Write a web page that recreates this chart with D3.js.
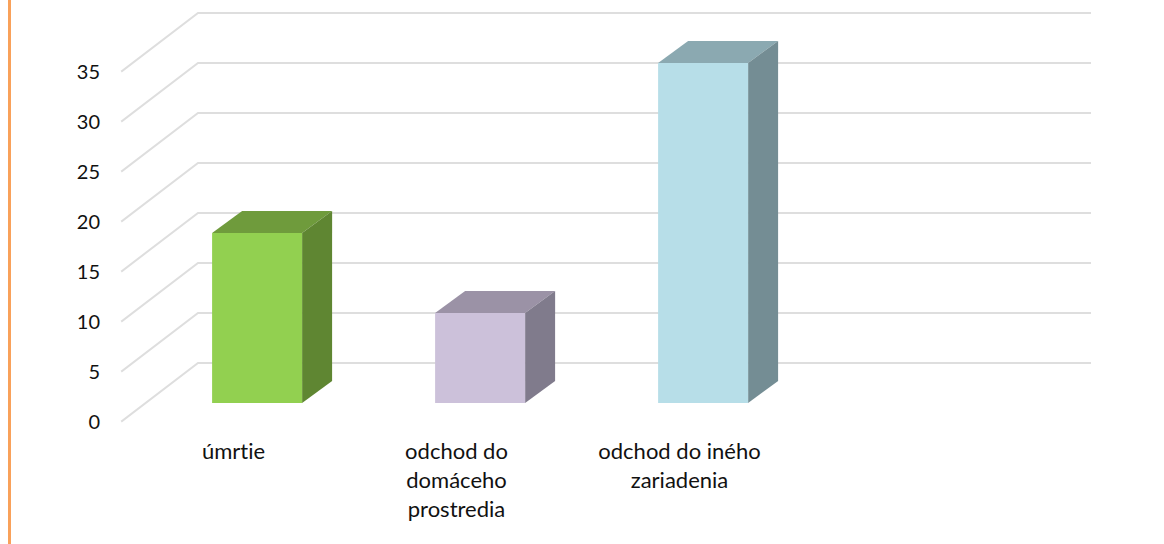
<!DOCTYPE html>
<html>
<head>
<meta charset="utf-8">
<script src="https://d3js.org/d3.v7.min.js"></script>
<style>
  html, body { margin: 0; padding: 0; background: #fff; }
  svg { display: block; }
  text { font-family: Lato, "Open Sans", sans-serif; font-size: 20px; fill: #111; font-variant-ligatures: none; }
  text.cat { font-size: 22px; }
</style>
</head>
<body>
<div id="chart"></div>
<script>
var categories = ['úmrtie', 'odchod do domáceho prostredia', 'odchod do iného zariadenia', ''];
var categoryLines = [
  ['úmrtie'],
  ['odchod do', 'domáceho', 'prostredia'],
  ['odchod do iného', 'zariadenia'],
  []
];
var values = [17, 9, 34, null];
var yTicks = [0, 5, 10, 15, 20, 25, 30, 35];
var frontColors = ['#92d050', '#ccc1da', '#b7dee8'];
var topColors = ['#6f9b3c', '#9b92a6', '#8ba9b1'];
var sideColors = ['#5f8632', '#807b8c', '#748d94'];

var width = 1164, height = 544;

var svg = d3.select('#chart').append('svg')
  .attr('width', width)
  .attr('height', height);

// border on the left of the slide
svg.append('rect')
  .attr('x', 8).attr('y', 0)
  .attr('width', 3).attr('height', height)
  .attr('fill', '#f9a15a');

var x = d3.scaleBand().domain(categories).range([122, 1014]);
var y = d3.scaleLinear().domain([0, 35]).range([421, 71]);

// fake 3d offsets
var wallDx = 76, wallDy = -58;
var barInsetX = 23.6, barInsetY = -18;
var barDx = 30, barDy = -22;
var barWidth = 90;

// grid: floor/side edge then back wall
svg.append('g').selectAll('path')
  .data(yTicks)
  .join('path')
  .attr('fill', 'none')
  .attr('stroke', '#dedede')
  .attr('stroke-width', 2)
  .attr('stroke-linecap', 'square')
  .attr('d', function (d) {
    var p = d3.path();
    p.moveTo(x.range()[0], y(d));
    p.lineTo(x.range()[0] + wallDx, y(d) + wallDy);
    p.lineTo(x.range()[1] + wallDx, y(d) + wallDy);
    return p.toString();
  });

var axis = d3.axisLeft(y).tickValues(yTicks).tickSize(0).tickPadding(0);
svg.append('g')
  .attr('transform', 'translate(100,1)')
  .call(axis)
  .call(function (g) { g.select('.domain').remove(); })
  .attr('font-family', null)
  .attr('font-size', null);

var bars = svg.append('g').selectAll('g')
  .data(categories.map(function (c, i) { return { c: c, v: values[i], i: i }; })
    .filter(function (d) { return d.v !== null; }))
  .join('g');

function poly(points) {
  return points.map(function (p) { return p.join(','); }).join(' ');
}

function barX(d) {
  return x(d.c) + (x.bandwidth() - barWidth) / 2 + barInsetX;
}

bars.append('polygon')
  .attr('fill', function (d) { return topColors[d.i]; })
  .attr('points', function (d) {
    var l = barX(d), t = y(d.v) + barInsetY;
    return poly([[l, t], [l + barWidth, t], [l + barWidth + barDx, t + barDy], [l + barDx, t + barDy]]);
  });

bars.append('polygon')
  .attr('fill', function (d) { return sideColors[d.i]; })
  .attr('points', function (d) {
    var r = barX(d) + barWidth, t = y(d.v) + barInsetY, b = y(0) + barInsetY;
    return poly([[r, t], [r + barDx, t + barDy], [r + barDx, b + barDy], [r, b]]);
  });

bars.append('rect')
  .attr('fill', function (d) { return frontColors[d.i]; })
  .attr('x', barX)
  .attr('y', function (d) { return y(d.v) + barInsetY; })
  .attr('width', barWidth)
  .attr('height', function (d) { return y(0) - y(d.v); });

// category labels, wrapped by hand like the original
var labels = svg.append('g').selectAll('text')
  .data(categories)
  .join('text')
  .attr('class', 'cat')
  .attr('text-anchor', 'middle')
  .attr('y', 459);

labels.selectAll('tspan')
  .data(function (d, i) {
    return categoryLines[i].map(function (t) { return { t: t, c: d }; });
  })
  .join('tspan')
  .attr('x', function (d) { return x(d.c) + x.bandwidth() / 2; })
  .attr('dy', function (d, i) { return i ? 29 : 0; })
  .text(function (d) { return d.t; });
</script>
</body>
</html>
